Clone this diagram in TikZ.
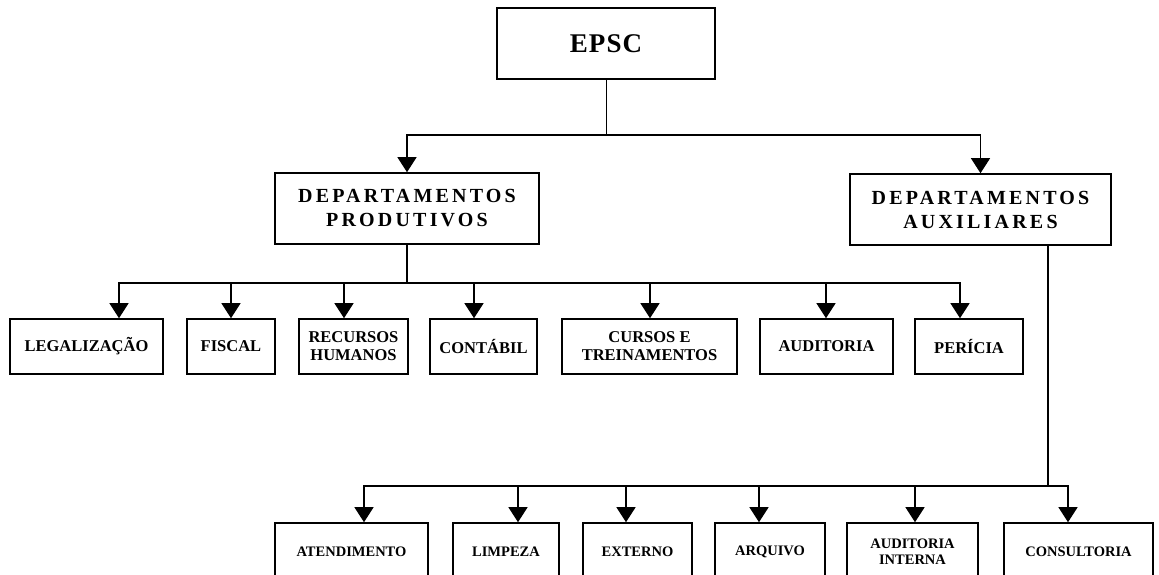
\documentclass[tikz,border=0pt]{standalone}
\usepackage{fontspec}
\setmainfont{Liberation Serif}
\usetikzlibrary{arrows.meta}
\begin{document}
\begin{tikzpicture}[x=1pt,y=-1pt,
  box/.style={draw=black,line width=1.6pt,inner sep=0pt,align=center,rectangle},
  conn/.style={draw=black,line width=1.2pt},
  arr/.style={conn,-{Triangle[length=15pt,width=19pt]}},
  topf/.style={font=\fontsize{27}{30}\selectfont\bfseries\addfontfeatures{LetterSpace=4}},
  depf/.style={font=\fontsize{20}{24}\selectfont\bfseries\addfontfeatures{LetterSpace=16}},
  midf/.style={font=\fontsize{16.5}{18}\selectfont\bfseries},
  botf/.style={font=\fontsize{14.5}{16}\selectfont\bfseries}]
\clip (0,0) rectangle (1159,574);
\fill[white] (0,0) rectangle (1159,574);
% top
\node[box,line width=1.3pt,topf,minimum width=218pt,minimum height=71pt] (epsc) at (606,43.5) {EPSC};
\node[box,depf,minimum width=264pt,minimum height=71pt] (dprod) at (407,208.5) {DEPARTAMENTOS\\PRODUTIVOS};
\node[box,depf,minimum width=261pt,minimum height=71pt] (daux) at (980.5,209.5) {DEPARTAMENTOS\\AUXILIARES};
% middle row
\node[box,midf,minimum width=153pt,minimum height=55pt] (leg) at (86.5,346.5) {LEGALIZAÇÃO};
\node[box,midf,minimum width=88pt,minimum height=55pt] (fis) at (231,346.5) {FISCAL};
\node[box,midf,minimum width=109pt,minimum height=55pt] (rh) at (353.5,346.5) {RECURSOS\\HUMANOS};
\node[box,midf,minimum width=107pt,minimum height=55pt] (cont) at (483.5,346.5) {CONTÁBIL};
\node[box,midf,minimum width=175pt,minimum height=55pt] (cur) at (649.5,346.5) {CURSOS E\\TREINAMENTOS};
\node[box,midf,minimum width=133pt,minimum height=55pt] (aud) at (826.5,346.5) {AUDITORIA};
\node[box,midf,minimum width=108pt,minimum height=55pt] (per) at (969,346.5) {PERÍCIA};
% bottom row
\node[box,botf,minimum width=153pt,minimum height=58pt] (aten) at (351.5,552) {ATENDIMENTO};
\node[box,botf,minimum width=106pt,minimum height=58pt] (limp) at (506,552) {LIMPEZA};
\node[box,botf,minimum width=109pt,minimum height=58pt] (ext) at (637.5,552) {EXTERNO};
\node[box,botf,minimum width=110pt,minimum height=58pt] (arq) at (770,552) {ARQUIVO};
\node[box,botf,minimum width=131pt,minimum height=58pt] (audi) at (912.5,552) {AUDITORIA\\INTERNA};
\node[box,botf,minimum width=149pt,minimum height=58pt] (cons) at (1078.5,552) {CONSULTORIA};
% bus points
\coordinate (b1) at (epsc.south |- 0,135);
\coordinate (b2) at (dprod.south |- 0,283);
\coordinate (b3) at (1048,486);
% connectors level 1
\draw[conn,line width=0.9pt] (epsc.south) -- (b1);
\draw[arr] (b1) -| (dprod.north);
\draw[arr] (b1) -| (daux.north);
% connectors level 2
\draw[conn] (dprod.south) -- (b2);
\draw[arr] (b2) -| (leg.north -| 119,0);
\draw[arr] (b2) -| (fis.north -| 231,0);
\draw[arr] (b2) -| (rh.north -| 344,0);
\draw[arr] (b2) -| (cont.north -| 474,0);
\draw[arr] (b2) -| (cur.north -| 650,0);
\draw[arr] (b2) -| (aud.north -| 826,0);
\draw[arr] (b2) -| (per.north -| 960,0);
% connectors level 3
\draw[conn] (daux.south -| b3) -- (b3);
\draw[arr] (b3) -| (aten.north -| 364,0);
\draw[arr] (b3) -| (limp.north -| 518,0);
\draw[arr] (b3) -| (ext.north -| 626,0);
\draw[arr] (b3) -| (arq.north -| 759,0);
\draw[arr] (b3) -| (audi.north -| 915,0);
\draw[arr] (b3) -| (cons.north -| 1068,0);
\end{tikzpicture}
\end{document}
